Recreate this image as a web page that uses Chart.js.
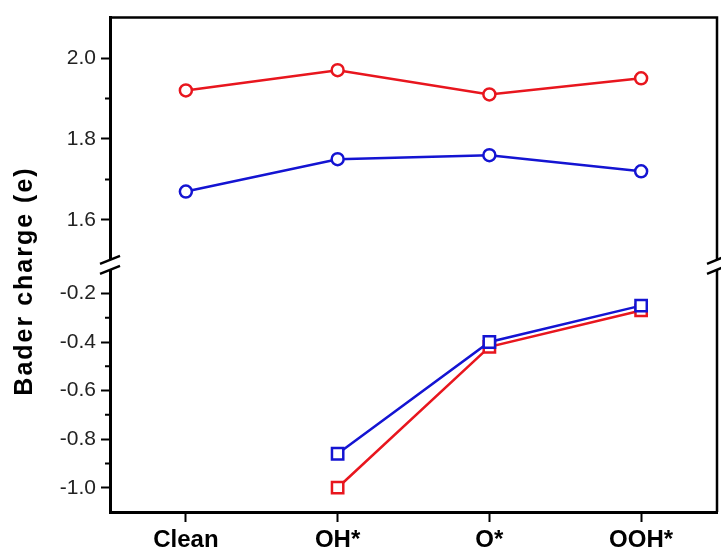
<!DOCTYPE html>
<html>
<head>
<meta charset="utf-8">
<script src="https://cdn.jsdelivr.net/npm/chart.js@4"></script>
<style>
  html, body { margin: 0; padding: 0; background: #fff; }
  #wrap { width: 721px; height: 552px; position: relative; }
</style>
</head>
<body>
<div id="wrap"><canvas id="chart"></canvas></div>
<script>
// Categories on the x axis
const categories = ['Clean', 'OH*', 'O*', 'OOH*'];
// Upper panel (circles)
const redCircles = [1.92, 1.97, 1.91, 1.95];
const blueCircles = [1.67, 1.75, 1.76, 1.72];
// Lower panel (squares), no value for Clean
const redSquares = [null, -1.00, -0.42, -0.27];
const blueSquares = [null, -0.86, -0.40, -0.25];
// Tick values of the broken y axis
const upperTicks = [1.6, 1.8, 2.0];
const upperMinorTicks = [1.7, 1.9];
const lowerTicks = [-1.0, -0.8, -0.6, -0.4, -0.2];
const lowerMinorTicks = [-0.9, -0.7, -0.5, -0.3];
const axisTitle = 'Bader charge (e)';

const RED = '#e8161e';
const BLUE = '#1414d2';
const FONT = 'Arial, "Liberation Sans", sans-serif';

// Frame, minor ticks, axis breaks and the y title
const framePlugin = {
    id: 'frame',
    afterDraw(chart) {
        let ctx = chart.ctx;
        let area = chart.chartArea;
        let up = chart.scales.yUp;
        let low = chart.scales.yLow;
        ctx.save();
        ctx.strokeStyle = '#000';
        ctx.lineCap = 'butt';

        // Top and right border
        ctx.lineWidth = 2.5;
        ctx.beginPath();
        ctx.moveTo(area.left, area.top);
        ctx.lineTo(area.right, area.top);
        ctx.lineTo(area.right, area.bottom);
        ctx.stroke();

        // Minor ticks
        ctx.lineWidth = 2;
        ctx.beginPath();
        for (let v of upperMinorTicks) {
            let y = up.getPixelForValue(v);
            ctx.moveTo(area.left - 5, y);
            ctx.lineTo(area.left, y);
        }
        for (let v of lowerMinorTicks) {
            let y = low.getPixelForValue(v);
            ctx.moveTo(area.left - 5, y);
            ctx.lineTo(area.left, y);
        }
        ctx.stroke();

        // Break marks on both vertical axes
        let yb = (up.bottom + low.top) / 2;
        ctx.lineWidth = 2.5;
        for (let x of [area.left, area.right]) {
            ctx.fillStyle = '#fff';
            ctx.beginPath();
            ctx.moveTo(x - 10, yb - 1);
            ctx.lineTo(x + 10, yb - 9);
            ctx.lineTo(x + 10, yb + 1);
            ctx.lineTo(x - 10, yb + 9);
            ctx.closePath();
            ctx.fill();
            ctx.beginPath();
            ctx.moveTo(x - 10, yb - 1);
            ctx.lineTo(x + 10, yb - 9);
            ctx.moveTo(x - 10, yb + 9);
            ctx.lineTo(x + 10, yb + 1);
            ctx.stroke();
        }

        // Y axis title
        ctx.fillStyle = '#000';
        ctx.font = 'bold 25px ' + FONT;
        ctx.letterSpacing = '2px';
        ctx.textAlign = 'center';
        ctx.textBaseline = 'middle';
        ctx.translate(25, 281);
        ctx.rotate(-Math.PI / 2);
        ctx.fillText(axisTitle, 0, 0);
        ctx.restore();
    }
};

function yAxis(min, max, ticks) {
    return {
        type: 'linear',
        position: 'left',
        stack: 'bader',
        stackWeight: 1,
        min: min,
        max: max,
        afterBuildTicks: (scale) => {
            scale.ticks = ticks.map(v => ({ value: v }));
        },
        afterFit: (scale) => {
            scale.width = 110;
        },
        border: { display: true, color: '#000', width: 3 },
        grid: {
            drawOnChartArea: false,
            drawTicks: true,
            tickLength: 9,
            tickColor: '#000',
            tickWidth: 2
        },
        ticks: {
            color: '#222',
            padding: 5,
            font: { family: FONT, size: 21 },
            callback: (v) => Number(v).toFixed(1)
        }
    };
}

function series(data, color, shape, radius, axis) {
    return {
        data: data,
        yAxisID: axis,
        borderColor: color,
        borderWidth: 2.5,
        backgroundColor: '#fff',
        pointStyle: shape,
        pointRadius: radius,
        pointBorderWidth: 2.5,
        pointBackgroundColor: '#fff',
        pointBorderColor: color,
        spanGaps: false,
        tension: 0
    };
}

new Chart(document.getElementById('chart'), {
    type: 'line',
    data: {
        labels: categories,
        datasets: [
            series(blueSquares, BLUE, 'rect', 8, 'yLow'),
            series(redSquares, RED, 'rect', 8, 'yLow'),
            series(redCircles, RED, 'circle', 6, 'yUp'),
            series(blueCircles, BLUE, 'circle', 6, 'yUp')
        ]
    },
    options: {
        responsive: true,
        maintainAspectRatio: false,
        animation: false,
        layout: { autoPadding: false, padding: { left: 0, top: 14, right: 4, bottom: 0 } },
        plugins: {
            legend: { display: false },
            tooltip: { enabled: false }
        },
        scales: {
            x: {
                type: 'category',
                offset: true,
                afterFit: (scale) => {
                    scale.height = 40;
                },
                border: { display: true, color: '#000', width: 3 },
                grid: {
                    drawOnChartArea: false,
                    drawTicks: true,
                    tickLength: 10,
                    tickColor: '#000',
                    tickWidth: 2
                },
                ticks: {
                    color: '#000',
                    padding: 4,
                    maxRotation: 0,
                    font: { family: FONT, size: 24, weight: 'bold' }
                }
            },
            // lower segment first: the stack is laid out bottom-up
            yLow: yAxis(-1.1, -0.082, lowerTicks),
            yUp: yAxis(1.489, 2.1, upperTicks)
        }
    },
    plugins: [framePlugin]
});
</script>
</body>
</html>
